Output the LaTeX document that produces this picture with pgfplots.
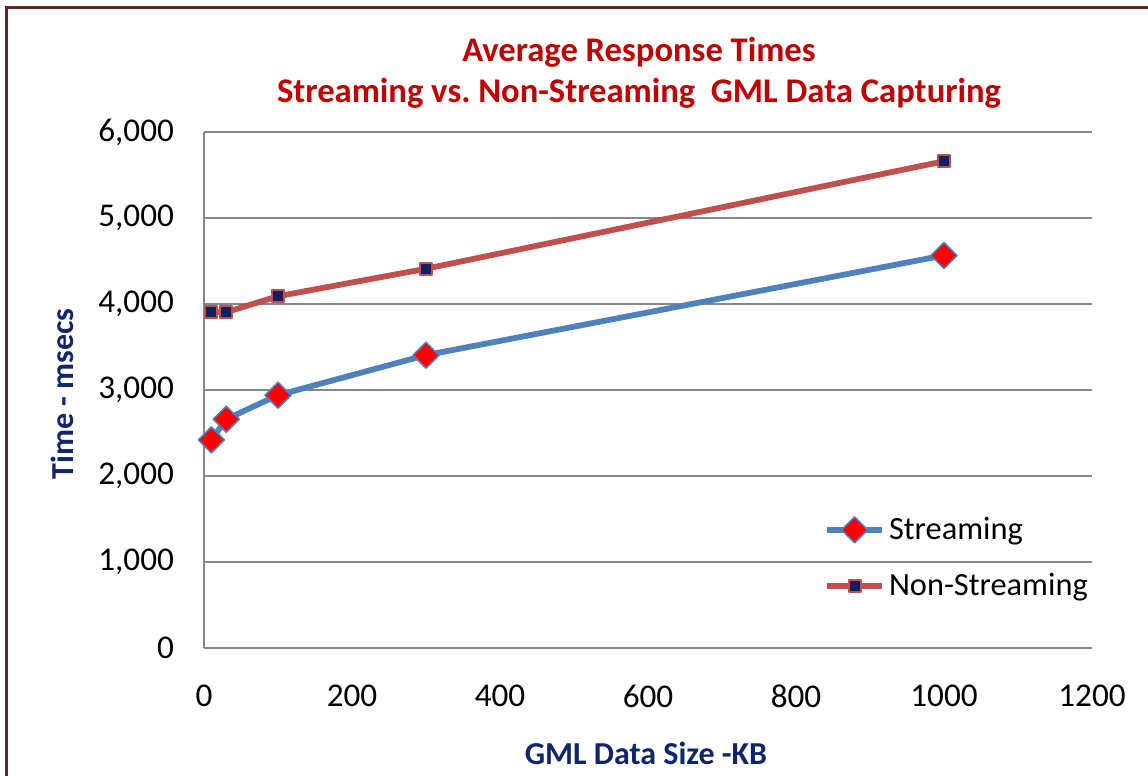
\documentclass[border=0pt]{standalone}
\usepackage{pgfplots}
\pgfplotsset{compat=1.18}
\usepackage{fontspec}
\setmainfont{Carlito}
\frenchspacing
\definecolor{titlered}{HTML}{C00000}
\definecolor{navy}{HTML}{10256B}
\definecolor{sblue}{HTML}{4F81BD}
\definecolor{nred}{HTML}{C0504D}
\definecolor{mnavy}{HTML}{0F1F5F}
\definecolor{gridgray}{HTML}{868686}
\definecolor{frame}{HTML}{632423}
\begin{document}
\begin{tikzpicture}
\path[use as bounding box] (0,0) rectangle (574pt,388pt);
\draw[frame, line width=1.5pt] (3pt,0) -- (3pt,384pt) -- (574pt,384pt);
\node[anchor=base, font=\fontsize{17.3}{19}\selectfont\bfseries, text=titlered, inner sep=0pt] at (319.5pt,357pt) {Average Response Times};
\node[anchor=base, font=\fontsize{17.3}{19}\selectfont\bfseries, text=titlered, inner sep=0pt] at (319.5pt,336.5pt) {Streaming vs. Non-Streaming\ \ GML Data Capturing};
\node[anchor=base, font=\fontsize{16}{19}\selectfont\bfseries, text=navy, inner sep=0pt] at (323pt,5.5pt) {GML Data Size -KB};
\node[anchor=base, rotate=90, font=\fontsize{16}{19}\selectfont\bfseries, text=navy, inner sep=0pt] at (36.5pt,191pt) {Time - msecs};
\begin{axis}[
  at={(102pt,64pt)}, anchor=south west,
  scale only axis, width=444pt, height=258pt,
  xmin=0, xmax=1200, ymin=0, ymax=6000,
  xtick={0,200,...,1200}, ytick={0,1000,...,6000},
  major tick length=0pt,
  axis x line*=bottom, axis y line*=left,
  axis line style={-, draw=gridgray, line width=1pt},
  ymajorgrids, grid style={draw=gridgray, line width=1pt},
  tick label style={font=\fontsize{16.6}{19}\selectfont, text=black},
  /pgf/number format/assume math mode=true,
  /pgf/number format/1000 sep={,},
  xticklabel style={/pgf/number format/1000 sep={}, yshift=-15pt},
  yticklabel style={xshift=-11.5pt},
  legend style={at={(0.698,0.262)}, anchor=north west, draw=none, fill=none,
    font=\fontsize{16.2}{19}\selectfont, row sep=11.5pt, inner sep=0pt},
  legend cell align=left,
  legend image code/.code={
    \draw[#1, mark repeat=2, mark phase=2] plot coordinates {(0pt,0pt) (13.75pt,0pt) (27.5pt,0pt)};
  },
]
\addplot[color=sblue, line width=2.9pt, line join=round, mark=diamond*,
  mark size=6.5pt, mark options={xscale=1.333, fill=red, draw=sblue, line width=0.8pt, solid}]
  coordinates {(10,2420) (30,2660) (100,2940) (300,3405) (1000,4565)};
\addlegendentry{Streaming}
\addplot[color=nred, line width=2.9pt, line join=round, mark=square*,
  mark size=3pt, mark options={fill=mnavy, draw=nred, line width=1pt, solid}]
  coordinates {(10,3905) (30,3905) (100,4090) (300,4410) (1000,5660)};
\addlegendentry{Non-Streaming}
\end{axis}
\end{tikzpicture}
\end{document}
